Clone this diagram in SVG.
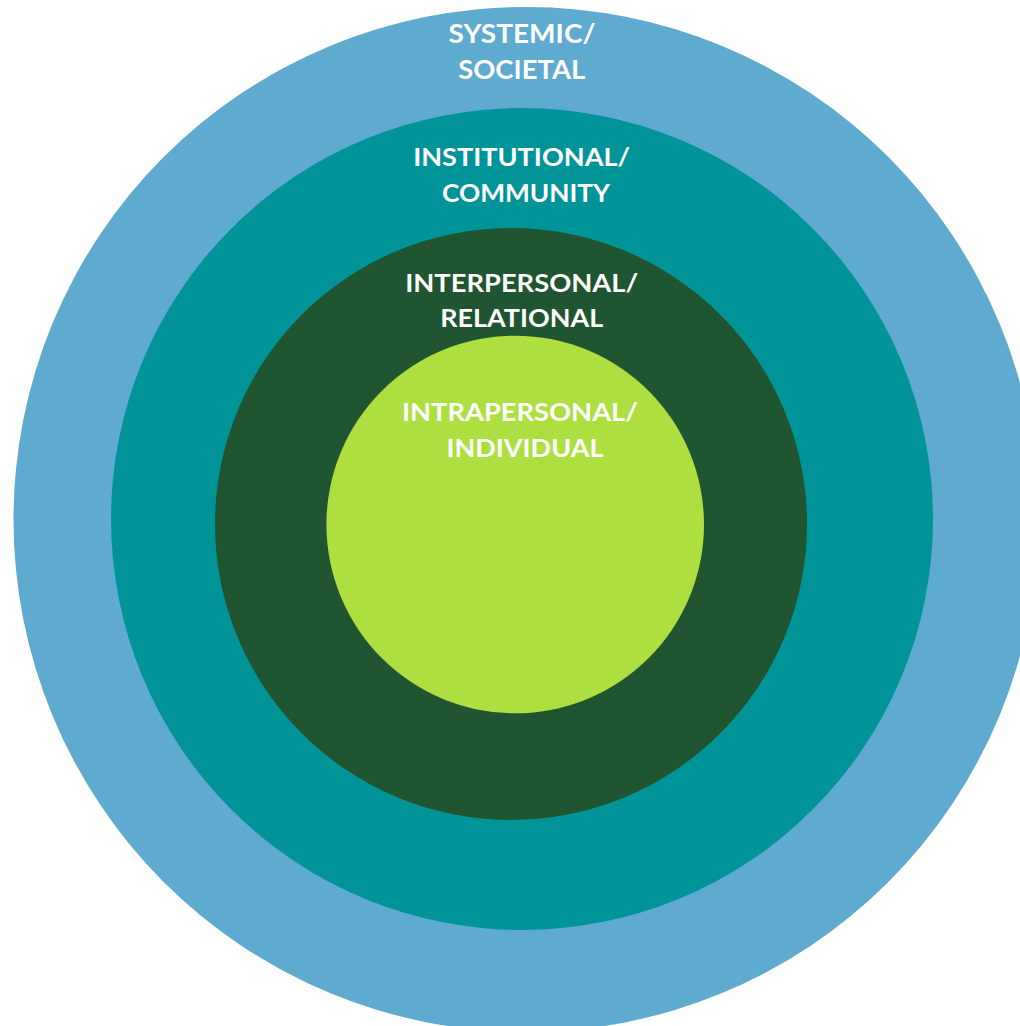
<svg xmlns="http://www.w3.org/2000/svg" width="1020" height="1026" viewBox="0 0 1020 1026">
<style>
.lbl{font-family:Lato,"Open Sans","Liberation Sans",sans-serif;font-weight:bold;fill:#ffffff;text-anchor:middle}
</style>
<rect width="1020" height="1026" fill="#ffffff"/>
<g id="systemic">
<circle cx="526" cy="519.5" r="512.5" fill="#5FAACF"/>
<text class="lbl" x="522" y="43.3" font-size="26.5" textLength="147" lengthAdjust="spacingAndGlyphs">SYSTEMIC/</text>
<text class="lbl" x="521.7" y="78.5" font-size="26.5" textLength="127" lengthAdjust="spacingAndGlyphs">SOCIETAL</text>
</g>
<g id="institutional">
<circle cx="522" cy="519" r="411" fill="#009499"/>
<text class="lbl" x="521.7" y="165.7" font-size="24" textLength="217" lengthAdjust="spacingAndGlyphs">INSTITUTIONAL/</text>
<text class="lbl" x="526" y="201.7" font-size="24" textLength="168" lengthAdjust="spacingAndGlyphs">COMMUNITY</text>
</g>
<g id="interpersonal">
<circle cx="511" cy="524" r="296" fill="#1F5530"/>
<text class="lbl" x="521.7" y="291.7" font-size="24" textLength="233" lengthAdjust="spacingAndGlyphs">INTERPERSONAL/</text>
<text class="lbl" x="521.7" y="326.7" font-size="24" textLength="163" lengthAdjust="spacingAndGlyphs">RELATIONAL</text>
</g>
<g id="intrapersonal">
<circle cx="515.2" cy="524.5" r="188.8" fill="#ADDF40"/>
<text class="lbl" x="520" y="421" font-size="24" textLength="236" lengthAdjust="spacingAndGlyphs">INTRAPERSONAL/</text>
<text class="lbl" x="525" y="456.7" font-size="24" textLength="157" lengthAdjust="spacingAndGlyphs">INDIVIDUAL</text>
</g>
<g id="connectors"/>
</svg>
